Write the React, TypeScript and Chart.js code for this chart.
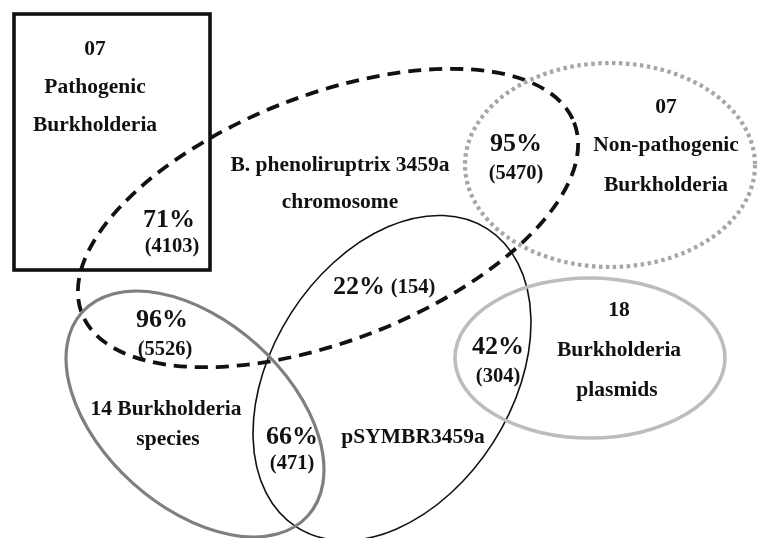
import React, { useEffect, useRef } from "react";
import { Chart, registerables } from "chart.js";

Chart.register(...registerables);

// ---- Data ----
const setNames = [
  "B. phenoliruptrix 3459a chromosome",
  "07 Non-pathogenic Burkholderia",
  "pSYMBR3459a",
  "14 Burkholderia species",
  "18 Burkholderia plasmids",
  "07 Pathogenic Burkholderia",
];
// ellipse geometry in diagram units: [cx, cy, rx, ry, rotationDeg]
const ellipseGeom: number[][] = [
  [328, 218, 264, 123, -21.2],
  [610, 165, 145, 102, 0],
  [392, 378, 177, 120, -57.4],
  [195, 414, 152, 93, 42],
  [590, 358, 135, 80, 0],
];
const ellipseColors = ["#111111", "#a6a6a6", "#111111", "#7f7f7f", "#bdbdbd"];
const ellipseWidths = [3.8, 4.2, 1.6, 3.2, 3.6];
const ellipseDashes: number[][] = [[13, 8], [3.5, 3.5], [], [], []];
// rectangle (pathogenic set): [x0, y0, x1, y1]
const rectGeom = [14, 14, 210, 270];

// labels: text, x, y, size
const labelTexts = [
  "07", "Pathogenic", "Burkholderia", "71%", "(4103)",
  "B. phenoliruptrix 3459a", "chromosome",
  "95%", "(5470)",
  "07", "Non-pathogenic", "Burkholderia",
  "22%", "(154)",
  "96%", "(5526)",
  "14 Burkholderia", "species",
  "66%", "(471)",
  "pSYMBR3459a",
  "42%", "(304)",
  "18", "Burkholderia", "plasmids",
];
const labelX = [
  95, 95, 95, 169, 172,
  340, 340,
  516, 516,
  666, 666, 666,
  359, 413,
  162, 165,
  166, 168,
  292, 292,
  413,
  498, 498,
  619, 619, 617,
];
const labelY = [
  49, 87, 125, 220, 247,
  165, 202,
  144, 174,
  107, 145, 185,
  287, 288,
  320, 350,
  409, 439,
  437, 464,
  437,
  347, 377,
  310, 350, 390,
];
const labelSizes = [
  21.5, 21.5, 21.5, 26, 20.5,
  21.5, 21.5,
  26, 20.5,
  21.5, 21.5, 21.5,
  26, 20.5,
  26, 20.5,
  21.5, 21.5,
  26, 20.5,
  21.5,
  26, 20.5,
  21.5, 21.5, 21.5,
];

const W = 757;
const H = 538;

const vennPlugin = {
  id: "venn",
  beforeDraw(chart: any) {
    const { ctx } = chart;
    ctx.save();
    ctx.fillStyle = "#ffffff";
    ctx.fillRect(0, 0, chart.width, chart.height);
    ctx.restore();
  },
  afterDatasetsDraw(chart: any) {
    const { ctx, scales } = chart;
    const xs = scales.x;
    const ys = scales.y;
    const px = (v: number) => xs.getPixelForValue(v);
    const py = (v: number) => ys.getPixelForValue(v);
    const sx = (d: number) => Math.abs(px(d) - px(0));
    const sy = (d: number) => Math.abs(py(d) - py(0));

    ctx.save();
    // rectangle
    ctx.strokeStyle = "#111111";
    ctx.lineWidth = 3.6;
    ctx.setLineDash([]);
    const [x0, y0, x1, y1] = rectGeom;
    ctx.strokeRect(px(x0), py(y0), px(x1) - px(x0), py(y1) - py(y0));

    // ellipses
    ellipseGeom.forEach((g, i) => {
      const [cx, cy, rx, ry, rot] = g;
      ctx.beginPath();
      ctx.ellipse(px(cx), py(cy), sx(rx), sy(ry), (rot * Math.PI) / 180, 0, Math.PI * 2);
      ctx.strokeStyle = ellipseColors[i];
      ctx.lineWidth = ellipseWidths[i];
      ctx.setLineDash(ellipseDashes[i]);
      ctx.lineCap = "butt";
      ctx.stroke();
    });
    ctx.setLineDash([]);

    // labels
    ctx.fillStyle = "#111111";
    ctx.textAlign = "center";
    ctx.textBaseline = "middle";
    labelTexts.forEach((t, i) => {
      ctx.font = `bold ${labelSizes[i]}px "Liberation Serif", "DejaVu Serif", serif`;
      ctx.fillText(t, px(labelX[i]), py(labelY[i]));
    });
    ctx.restore();
  },
};

export default function App() {
  const ref = useRef<HTMLCanvasElement | null>(null);
  useEffect(() => {
    if (!ref.current) return;
    const chart = new Chart(ref.current, {
      type: "scatter",
      data: {
        datasets: [
          {
            label: setNames.join(" / "),
            data: ellipseGeom.map((g) => ({ x: g[0], y: g[1] })),
            pointRadius: 0,
            showLine: false,
          },
        ],
      },
      options: {
        animation: false,
        responsive: false,
        maintainAspectRatio: false,
        layout: { padding: 0 },
        plugins: {
          legend: { display: false },
          tooltip: { enabled: false },
        },
        scales: {
          x: { type: "linear", min: 0, max: W, display: false },
          y: { type: "linear", min: 0, max: H, reverse: true, display: false },
        },
      },
      plugins: [vennPlugin],
    });
    return () => chart.destroy();
  }, []);
  return (
    <div style={{ position: "absolute", left: 0, top: 0, width: W, height: H, background: "#fff" }}>
      <canvas ref={ref} width={W} height={H} style={{ width: W, height: H, display: "block" }} />
    </div>
  );
}
